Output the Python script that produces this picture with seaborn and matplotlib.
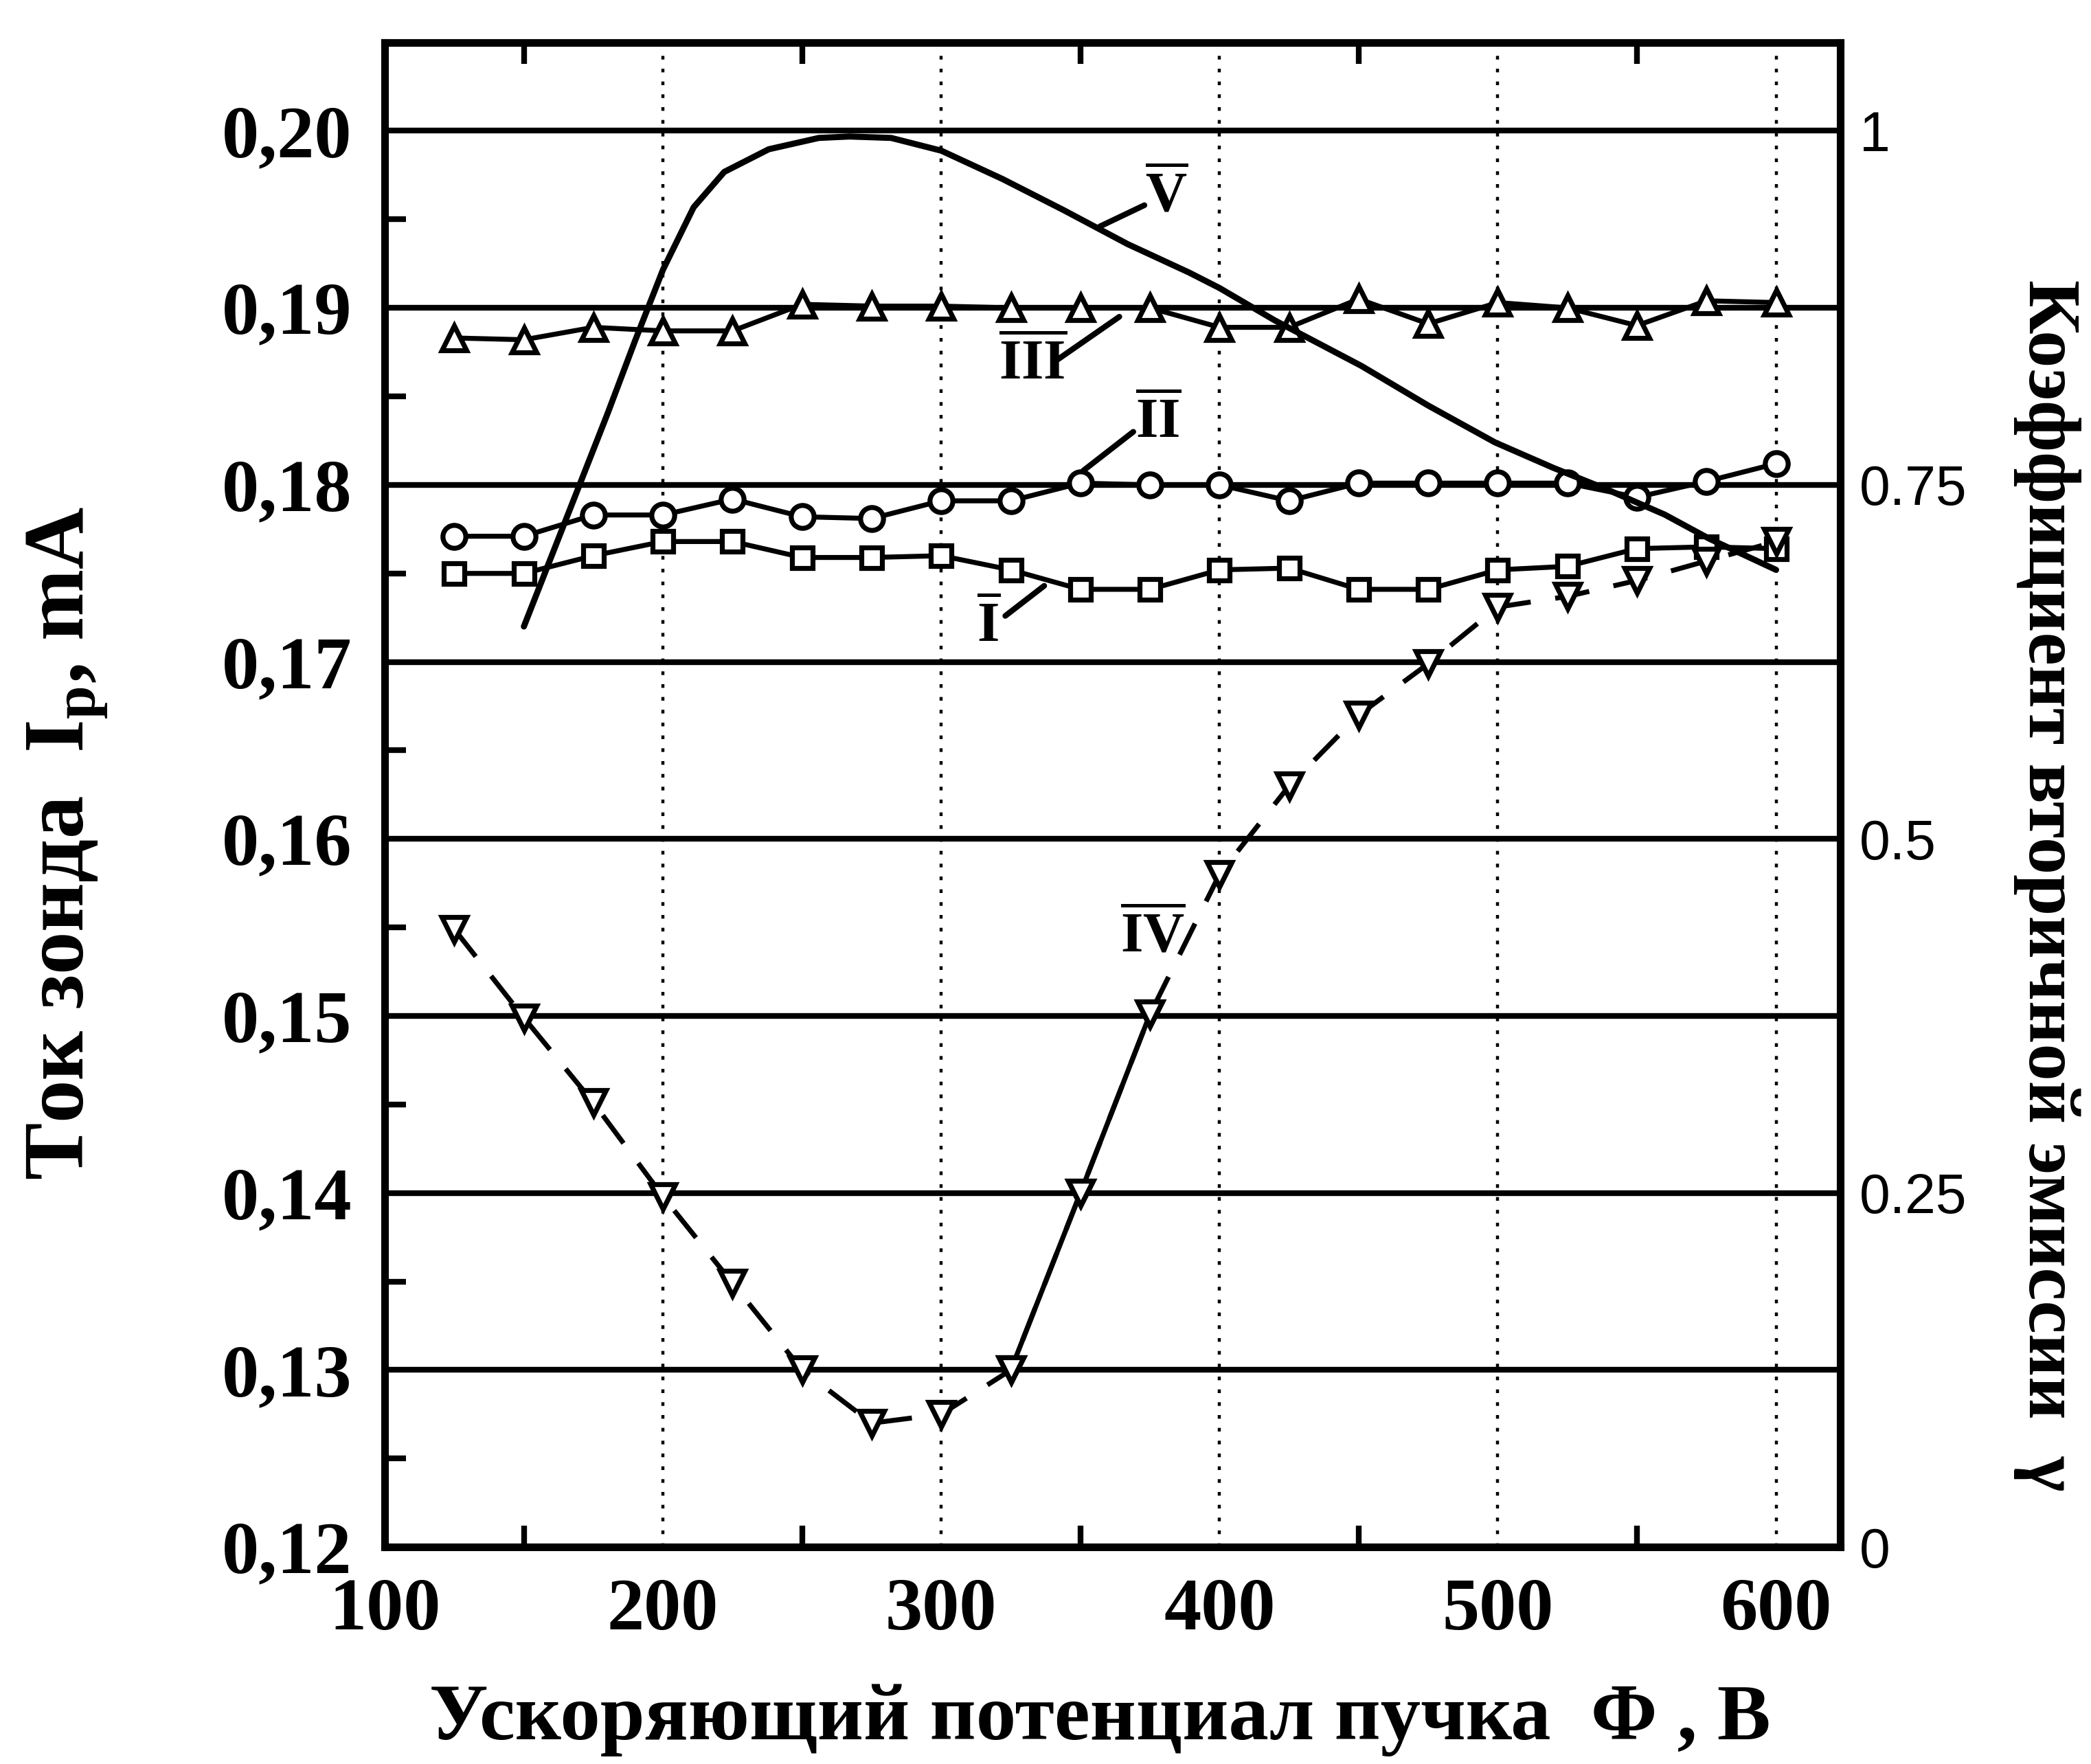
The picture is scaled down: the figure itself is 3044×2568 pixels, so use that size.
import matplotlib
matplotlib.use("Agg")
import matplotlib.pyplot as plt
import seaborn as sns
import pandas as pd
from matplotlib.ticker import FixedLocator, FixedFormatter

# ---------------- data ----------------
phi = [125, 150, 175, 200, 225, 250, 275, 300, 325, 350,
       375, 400, 425, 450, 475, 500, 525, 550, 575, 600]

curve_I = [0.1750, 0.1750, 0.1760, 0.1768, 0.1768, 0.1759, 0.1759, 0.1760, 0.1752, 0.1741,
           0.1741, 0.1752, 0.1753, 0.1741, 0.1741, 0.1752, 0.1754, 0.1764, 0.1765, 0.1764]
curve_II = [0.1771, 0.1771, 0.1783, 0.1783, 0.1792, 0.1782, 0.1781, 0.1791, 0.1791, 0.1801,
            0.1800, 0.1800, 0.1791, 0.1801, 0.1801, 0.1801, 0.1801, 0.1793, 0.1802, 0.1812]
curve_III = [0.1883, 0.1882, 0.1889, 0.1887, 0.1887, 0.1902, 0.1901, 0.1901, 0.1900, 0.1900,
             0.1900, 0.1889, 0.1889, 0.1905, 0.1891, 0.1903, 0.1900, 0.1890, 0.1904, 0.1903]
curve_IV = [0.1549, 0.1499, 0.1451, 0.1398, 0.1349, 0.1300, 0.1270, 0.1275, 0.1300, 0.1400,
            0.1501, 0.1580, 0.1630, 0.1670, 0.1699, 0.1731, 0.1737, 0.1746, 0.1757, 0.1768]
iv_solid_range = (325, 375)

# secondary-emission coefficient gamma (curve V, right axis)
v_phi = [150, 160, 170, 180, 190, 200, 211, 222, 238, 256, 267, 282, 300, 322,
         344, 367, 389, 400, 420, 451, 475, 499, 520, 539, 560, 576, 600]
v_gamma = [0.650, 0.700, 0.750, 0.800, 0.852, 0.902, 0.946, 0.971, 0.987, 0.995, 0.996,
           0.995, 0.986, 0.966, 0.944, 0.920, 0.900, 0.889, 0.866, 0.834, 0.806, 0.780,
           0.762, 0.747, 0.729, 0.712, 0.690]

x_ticks = [100, 200, 300, 400, 500, 600]
x_ticklabels = ["100", "200", "300", "400", "500", "600"]
y_ticks = [0.12, 0.13, 0.14, 0.15, 0.16, 0.17, 0.18, 0.19, 0.20]
y_ticklabels = ["0,12", "0,13", "0,14", "0,15", "0,16", "0,17", "0,18", "0,19", "0,20"]
g_ticks = [0, 0.25, 0.5, 0.75, 1]
g_ticklabels = ["0", "0.25", "0.5", "0.75", "1"]
x_minor = [150, 250, 350, 450, 550]
y_minor = [0.125, 0.135, 0.145, 0.155, 0.165, 0.175, 0.185, 0.195]

x_label = "Ускоряющий потенциал пучка  Φ , В"
y_label = "Ток зонда  I$_\\mathrm{p}$, mA"
g_label = "Коэффициент вторичной эмиссии  γ"

# curve labels: text, label position, leader start, leader end
curve_labels = ["V", "III", "II", "I", "IV"]
label_pos = [(381, 0.1963), (333, 0.1868), (378, 0.1835), (317, 0.1720), (376, 0.1545)]
leader_from = [(373, 0.1958), (342, 0.1871), (369, 0.1830), (323, 0.1726), None]
leader_to = [(357, 0.1946), (364, 0.1895), (351, 0.1808), (337, 0.1743), None]

# ---------------- style ----------------
sns.set_style("white")
plt.rcParams["font.family"] = ["Liberation Serif", "DejaVu Serif"]
plt.rcParams["font.weight"] = "bold"
plt.rcParams["text.color"] = "black"
plt.rcParams["axes.labelcolor"] = "black"
plt.rcParams["xtick.color"] = "black"
plt.rcParams["ytick.color"] = "black"
plt.rcParams["mathtext.fontset"] = "custom"
plt.rcParams["mathtext.rm"] = "Liberation Serif:bold"
plt.rcParams["mathtext.it"] = "Liberation Serif:bold:italic"
plt.rcParams["mathtext.bf"] = "Liberation Serif:bold"

fig = plt.figure(figsize=(15.22, 12.84), dpi=200)
ax = fig.add_axes([0.184, 0.123, 0.696, 0.853])
ax.set_xlim(100, 623)
ax.set_ylim(0.12, 0.205)

# grid
ax.set_axisbelow(True)
ax.yaxis.grid(True, color="black", lw=3.0)
ax.xaxis.grid(True, color="black", lw=1.6, linestyle=(0, (1.2, 3.0)))

mk = dict(color="black", markerfacecolor="white", markeredgecolor="black",
          markeredgewidth=2.6, errorbar=None, legend=False, zorder=4)

df = pd.DataFrame({"phi": phi, "I": curve_I, "II": curve_II,
                   "III": curve_III, "IV": curve_IV})

sns.lineplot(data=df, x="phi", y="I", ax=ax, marker="s", markersize=11, lw=2.6, **mk)
sns.lineplot(data=df, x="phi", y="II", ax=ax, marker="o", markersize=12, lw=2.6, **mk)
sns.lineplot(data=df, x="phi", y="III", ax=ax, marker="^", markersize=13, lw=2.6, **mk)
sns.lineplot(data=df, x="phi", y="IV", ax=ax, marker="v", markersize=13, lw=2.6,
             linestyle=(0, (7, 5)), **mk)
seg = df[(df["phi"] >= iv_solid_range[0]) & (df["phi"] <= iv_solid_range[1])]
sns.lineplot(data=seg, x="phi", y="IV", ax=ax, marker="v", markersize=13, lw=2.6, **mk)

# ticks
ax.xaxis.set_major_locator(FixedLocator(x_ticks))
ax.xaxis.set_major_formatter(FixedFormatter(x_ticklabels))
ax.yaxis.set_major_locator(FixedLocator(y_ticks))
ax.yaxis.set_major_formatter(FixedFormatter(y_ticklabels))
ax.xaxis.set_minor_locator(FixedLocator(x_minor))
ax.yaxis.set_minor_locator(FixedLocator(y_minor))
ax.tick_params(which="major", length=0, labelsize=39, labelcolor="black")
ax.tick_params(axis="y", which="major", pad=17)
ax.tick_params(axis="x", which="major", pad=16)
ax.tick_params(which="minor", direction="in", length=11, width=3, color="black",
               top=True, bottom=True, left=True, right=True)
for lab in ax.get_xticklabels() + ax.get_yticklabels():
    lab.set_fontweight("bold")
for s in ax.spines.values():
    s.set_visible(True)
    s.set_linewidth(4)
    s.set_color("black")

ax.set_xlabel(x_label, fontsize=42, fontweight="bold", va="center", ha="center",
              color="black")
ax.set_ylabel(y_label, fontsize=45, fontweight="bold", va="center", ha="center",
              color="black")
ax.xaxis.set_label_coords(0.4915, -0.115)
ax.yaxis.set_label_coords(-0.218, 0.468)

# secondary axis (gamma)
ax2 = ax.twinx()
ax2.set_ylim(0, 1.0625)
sns.lineplot(x=v_phi, y=v_gamma, ax=ax2, color="black", lw=3.2, errorbar=None, zorder=5)
ax2.yaxis.set_major_locator(FixedLocator(g_ticks))
ax2.yaxis.set_major_formatter(FixedFormatter(g_ticklabels))
ax2.tick_params(axis="y", length=0, pad=10, labelsize=29, labelcolor="black")
for lab in ax2.get_yticklabels():
    lab.set_fontfamily(["Liberation Sans", "DejaVu Sans"])
    lab.set_fontweight("normal")
for s in ax2.spines.values():
    s.set_visible(False)
ax2.set_ylabel(g_label, fontsize=39, fontweight="bold", rotation=270,
               va="center", ha="center", color="black")
ax2.yaxis.set_label_coords(1.142, 0.44)

# curve labels with leaders
for txt, pos, p0, p1 in zip(curve_labels, label_pos, leader_from, leader_to):
    ax.text(pos[0], pos[1], r"$\overline{\mathrm{%s}}$" % txt, fontsize=30,
            ha="center", va="center", zorder=6, color="black")
    if p0 is not None:
        ax.annotate("", xy=p1, xytext=p0,
                    arrowprops=dict(arrowstyle="-", lw=3, color="black",
                                    shrinkA=0, shrinkB=0), zorder=6)

fig.savefig("out.png", dpi=200, facecolor="white")
